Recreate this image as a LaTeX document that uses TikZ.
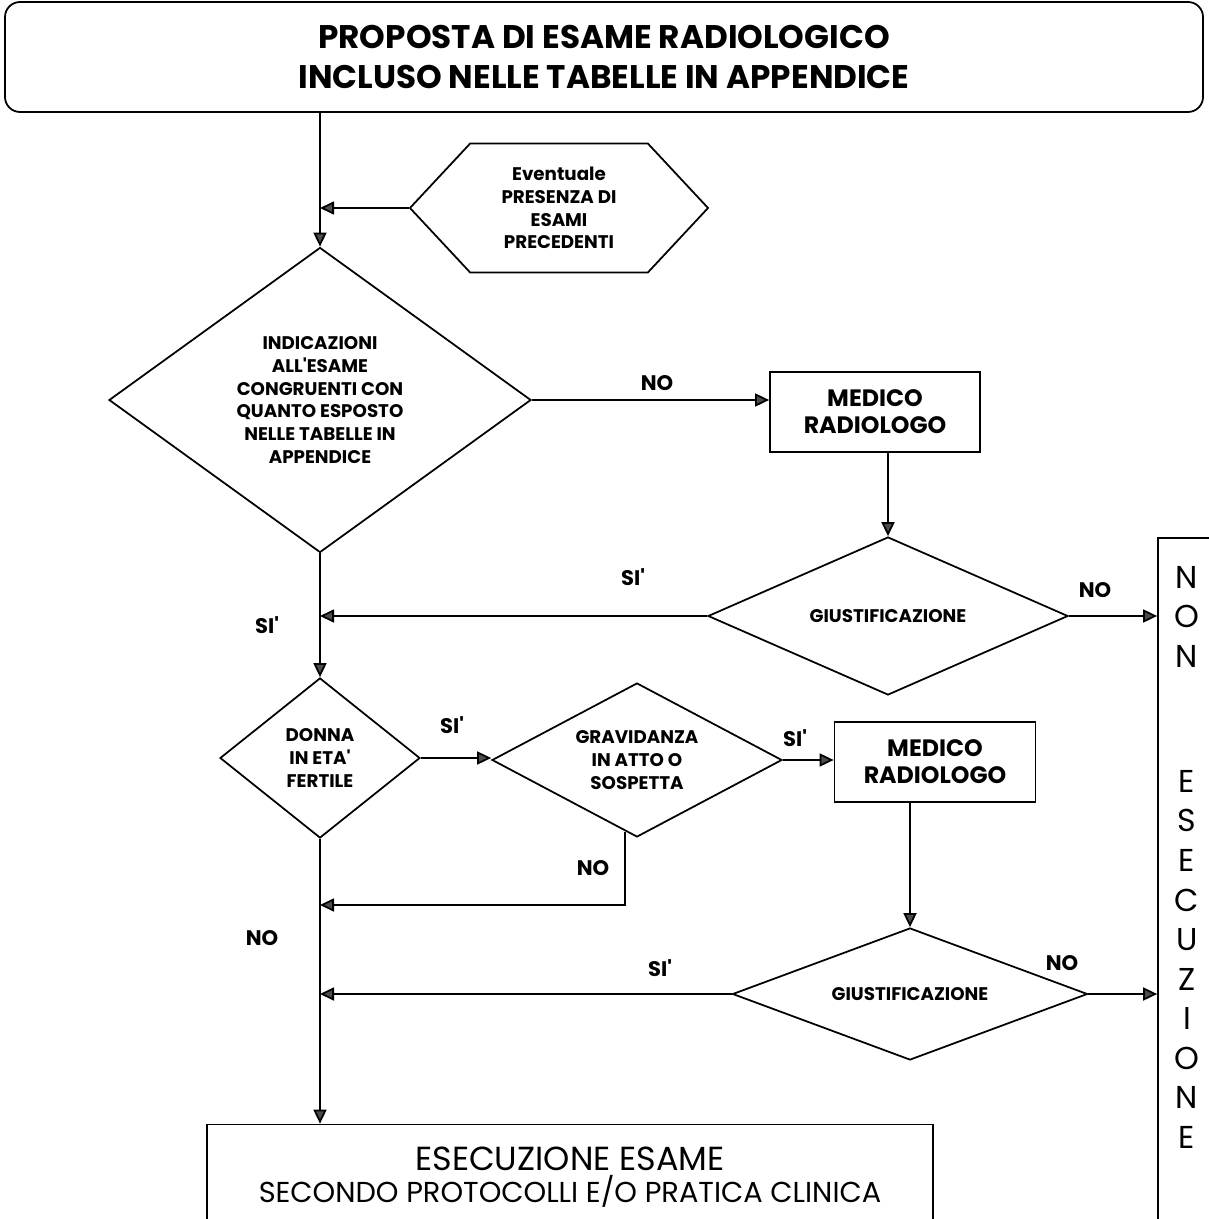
\documentclass[tikz,border=0pt]{standalone}
\usepackage{fontspec}
\setmainfont{Poppins}[Ligatures=TeXOff]
\usetikzlibrary{shapes.geometric,shapes.symbols,arrows.meta,calc}

\newlength{\px}\setlength{\px}{0.02cm}

\tikzset{
  box/.style={draw, line width=1pt, rectangle, inner sep=0pt, align=center},
  choice/.style={draw, line width=1pt, diamond, inner sep=0pt, align=center,
    font=\fontsize{10.4}{13}\selectfont\bfseries},
  flow/.style={line width=1pt, -{Triangle[length=0.28cm,width=0.26cm,fill=gray!60!black]}},
  lbl/.style={font=\fontsize{12}{14}\selectfont\bfseries},
}

\begin{document}
\begin{tikzpicture}[x=0.02cm, y=-0.02cm]
  \useasboundingbox (0,0) rectangle (1208,1219);

  % boxes
  \node[box, rounded corners=15\px, minimum width=1198\px, minimum height=110\px,
    font=\fontsize{18.6}{22.8}\selectfont\bfseries] (title) at (604,57)
    {PROPOSTA DI ESAME RADIOLOGICO\\INCLUSO NELLE TABELLE IN APPENDICE};
  \node[draw, line width=1pt, signal, signal to=west and east, signal pointer angle=94,
    minimum width=298\px, minimum height=129\px, inner sep=0pt, align=center,
    font=\fontsize{10.4}{13}\selectfont\bfseries] (prev) at (559,208)
    {Eventuale\\PRESENZA DI\\ESAMI\\PRECEDENTI};
  \node[choice, aspect=1.38, minimum width=422\px, minimum height=305\px] (d1) at (320,400)
    {INDICAZIONI\\ALL'ESAME\\CONGRUENTI CON\\QUANTO ESPOSTO\\NELLE TABELLE IN\\APPENDICE};
  \node[box, minimum width=210\px, minimum height=80\px,
    font=\fontsize{13.5}{15.4}\selectfont\bfseries] (box1) at (875,412) {MEDICO\\RADIOLOGO};
  \node[choice, aspect=2.28, minimum width=360\px, minimum height=158\px] (d2) at (888,616)
    {GIUSTIFICAZIONE};
  \node[choice, aspect=1.25, minimum width=200\px, minimum height=160\px] (d3) at (320,758)
    {DONNA\\IN ETA'\\FERTILE};
  \node[choice, aspect=1.9, minimum width=290\px, minimum height=154\px] (d4) at (637,760)
    {GRAVIDANZA\\IN ATTO O\\SOSPETTA};
  \node[box, minimum width=201\px, minimum height=80\px,
    font=\fontsize{13.5}{15.4}\selectfont\bfseries] (box2) at (935,762) {MEDICO\\RADIOLOGO};
  \node[choice, aspect=2.7, minimum width=355\px, minimum height=132\px] (d5) at (910,994)
    {GIUSTIFICAZIONE};
  \node[box, minimum width=726\px, minimum height=105\px] (exec) at (570,1177)
    {{\fontsize{19}{20}\selectfont ESECUZIONE ESAME}\\[2pt]
     {\fontsize{16.4}{18}\selectfont SECONDO PROTOCOLLI E/O PRATICA CLINICA}};
  \node[box, minimum width=102\px, minimum height=722\px] (nonex) at (1209,899) {};
  \node[anchor=north, inner sep=0pt, align=center, font=\fontsize{18}{22.5}\selectfont]
    (nonextxt) at (1187,566) {N\\O\\N\\[48.6pt]E\\S\\E\\C\\U\\Z\\I\\O\\N\\E};

  % labels
  \node[lbl] (no1) at (657,383) {NO};
  \node[lbl] (si1) at (633,577) {SI'};
  \node[lbl] (si2) at (267,625) {SI'};
  \node[lbl] (no2) at (1095,590) {NO};
  \node[lbl] (si3) at (452,725) {SI'};
  \node[lbl] (si4) at (795,738) {SI'};
  \node[lbl] (no3) at (593,868) {NO};
  \node[lbl] (no4) at (262,938) {NO};
  \node[lbl] (si5) at (660,968) {SI'};
  \node[lbl] (no5) at (1062,963) {NO};

  % connectors
  \coordinate (join) at (320,905);
  \draw[flow] (title.south -| d1.north) -- (d1.north);
  \draw[flow] (prev.west) -- (prev.west -| d1.north);
  \draw[flow] (d1.east) -- (d1.east -| box1.west);
  \draw[flow] (box1.south -| d2.north) -- (d2.north);
  \draw[flow] (d2.west) -- (d2.west -| d1.south);
  \draw[flow] (d2.east) -- (d2.east -| nonex.west);
  \draw[flow] (d1.south) -- (d3.north);
  \draw[flow] (d3.east) -- (d3.east -| d4.west);
  \draw[flow] (d4.east) -- (d4.east -| box2.west);
  \draw[flow] ([xshift=-12\px,yshift=6\px]d4.south) |- (join);
  \draw[flow] (d3.south) -- (d3.south |- exec.north);
  \draw[flow] (box2.south -| d5.north) -- (d5.north);
  \draw[flow] (d5.west) -- (d5.west -| d1.south);
  \draw[flow] (d5.east) -- (d5.east -| nonex.west);
\end{tikzpicture}
\end{document}
